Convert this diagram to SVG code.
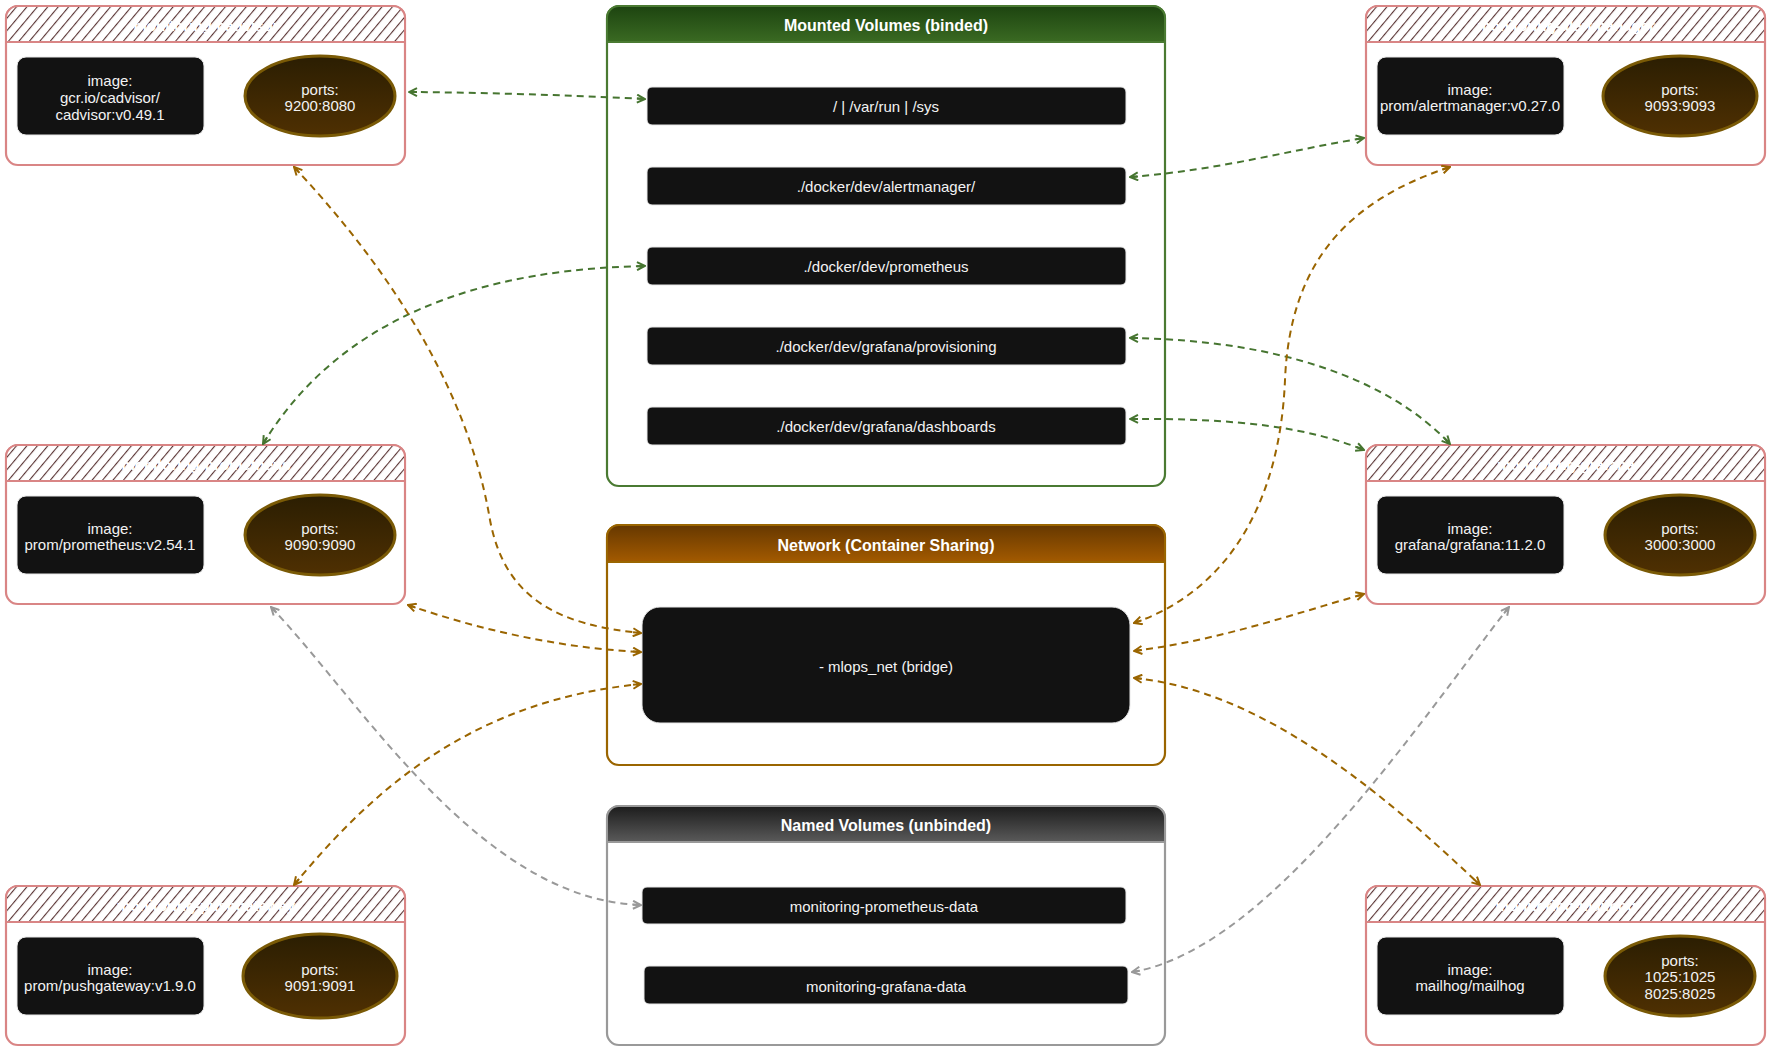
<svg xmlns="http://www.w3.org/2000/svg" width="1772" height="1053" viewBox="0 0 1772 1053">
<style>
.svc{fill:#fff;stroke:#d98585;stroke-width:2.2}
.hdr{fill:url(#hatch);stroke:#d98585;stroke-width:2}
.ttl{font-family:"Liberation Sans",Arial,sans-serif;font-size:15px;font-weight:bold;fill:#fff;text-anchor:middle;dominant-baseline:central}
.box{fill:#121212;stroke:#e8e8e8;stroke-width:1}
.t{font-family:"Liberation Sans",Arial,sans-serif;font-size:15px;fill:#f2f2f2;text-anchor:middle;dominant-baseline:central}
.port{fill:url(#portg);stroke:#7a5a06;stroke-width:3}
.ctitle{font-family:"Liberation Sans",Arial,sans-serif;font-size:16px;font-weight:bold;fill:#fff;text-anchor:middle;dominant-baseline:central}
.cg{fill:none;stroke:#467530;stroke-width:2;stroke-dasharray:7 5;marker-start:url(#ag);marker-end:url(#ag)}
.cb{fill:none;stroke:#9a6500;stroke-width:2;stroke-dasharray:7 5;marker-start:url(#ab);marker-end:url(#ab)}
.cy{fill:none;stroke:#999;stroke-width:2;stroke-dasharray:7 5;marker-start:url(#ay);marker-end:url(#ay)}
</style>
<defs>
<pattern id="hatch" patternUnits="userSpaceOnUse" width="8" height="8" patternTransform="rotate(40)">
<rect width="8" height="8" fill="#fff"/>
<line x1="0" y1="0" x2="0" y2="8" stroke="#5a3434" stroke-width="2.2"/>
</pattern>
<linearGradient id="portg" x1="0" y1="0" x2="0" y2="1">
<stop offset="0" stop-color="#2b1e02"/><stop offset="1" stop-color="#4f3002"/>
</linearGradient>
<linearGradient id="gg" x1="0" y1="0" x2="0" y2="1">
<stop offset="0" stop-color="#1d4410"/><stop offset="1" stop-color="#3a6a22"/>
</linearGradient>
<linearGradient id="bg" x1="0" y1="0" x2="0" y2="1">
<stop offset="0" stop-color="#663800"/><stop offset="1" stop-color="#a35a00"/>
</linearGradient>
<linearGradient id="yg" x1="0" y1="0" x2="0" y2="1">
<stop offset="0" stop-color="#1c1c1c"/><stop offset="1" stop-color="#5a5a5a"/>
</linearGradient>
<marker id="ag" viewBox="0 0 10 10" refX="9" refY="5" markerWidth="10" markerHeight="10" markerUnits="userSpaceOnUse" orient="auto-start-reverse"><path d="M1,1 L9,5 L1,9 M9,5 L1,5" fill="none" stroke="#467530" stroke-width="2"/></marker>
<marker id="ab" viewBox="0 0 10 10" refX="9" refY="5" markerWidth="10" markerHeight="10" markerUnits="userSpaceOnUse" orient="auto-start-reverse"><path d="M1,1 L9,5 L1,9 M9,5 L1,5" fill="none" stroke="#9a6500" stroke-width="2"/></marker>
<marker id="ay" viewBox="0 0 10 10" refX="9" refY="5" markerWidth="10" markerHeight="10" markerUnits="userSpaceOnUse" orient="auto-start-reverse"><path d="M1,1 L9,5 L1,9 M9,5 L1,5" fill="none" stroke="#999" stroke-width="2"/></marker>
</defs>
<rect width="1772" height="1053" fill="#fff"/>

<g id="mounted-volumes">
<rect x="607" y="6" width="558" height="480" rx="12" fill="#fff" stroke="#4a7a32" stroke-width="2.2"/>
<path d="M607,42 V18 A12,12 0 0 1 619,6 H1153 A12,12 0 0 1 1165,18 V42 Z" fill="url(#gg)" stroke="#4a7a32" stroke-width="2"/>
<text class="ctitle" x="886" y="25">Mounted Volumes (binded)</text>
<rect class="box" x="647" y="87" width="479" height="38" rx="5"/>
<text class="t" x="886" y="106">/ | /var/run  | /sys</text>
<rect class="box" x="647" y="167" width="479" height="38" rx="5"/>
<text class="t" x="886" y="186">./docker/dev/alertmanager/</text>
<rect class="box" x="647" y="247" width="479" height="38" rx="5"/>
<text class="t" x="886" y="266">./docker/dev/prometheus</text>
<rect class="box" x="647" y="327" width="479" height="38" rx="5"/>
<text class="t" x="886" y="346">./docker/dev/grafana/provisioning</text>
<rect class="box" x="647" y="407" width="479" height="38" rx="5"/>
<text class="t" x="886" y="426">./docker/dev/grafana/dashboards</text>
</g>

<g id="network">
<rect x="607" y="525" width="558" height="240" rx="12" fill="#fff" stroke="#9a6500" stroke-width="2.2"/>
<path d="M607,562 V537 A12,12 0 0 1 619,525 H1153 A12,12 0 0 1 1165,537 V562 Z" fill="url(#bg)" stroke="#9a6500" stroke-width="2"/>
<text class="ctitle" x="886" y="545">Network (Container Sharing)</text>
<rect class="box" x="642" y="607" width="488" height="116" rx="18"/>
<text class="t" x="886" y="666">- mlops_net (bridge)</text>
</g>

<g id="named-volumes">
<rect x="607" y="806" width="558" height="239" rx="12" fill="#fff" stroke="#999" stroke-width="2.2"/>
<path d="M607,842 V818 A12,12 0 0 1 619,806 H1153 A12,12 0 0 1 1165,818 V842 Z" fill="url(#yg)" stroke="#999" stroke-width="2"/>
<text class="ctitle" x="886" y="825">Named Volumes (unbinded)</text>
<rect class="box" x="642" y="887" width="484" height="37" rx="5"/>
<text class="t" x="884" y="906">monitoring-prometheus-data</text>
<rect class="box" x="644" y="966" width="484" height="38" rx="5"/>
<text class="t" x="886" y="986">monitoring-grafana-data</text>
</g>

<g id="cadvisor" transform="translate(6,6)">
<rect class="svc" width="399" height="159" rx="12"/>
<path class="hdr" d="M0,36 V12 A12,12 0 0 1 12,0 H387 A12,12 0 0 1 399,12 V36 Z"/>
<text class="ttl" x="200" y="19">monitoring-cadvisor</text>
<rect class="box" x="11" y="51" width="187" height="78" rx="9"/>
<text class="t" x="104" y="74">image:</text>
<text class="t" x="104" y="91">gcr.io/cadvisor/</text>
<text class="t" x="104" y="108">cadvisor:v0.49.1</text>
<ellipse class="port" cx="314" cy="90" rx="75" ry="40"/>
<text class="t" x="314" y="83">ports:</text>
<text class="t" x="314" y="99">9200:8080</text>
</g>

<g id="alertmanager" transform="translate(1366,6)">
<rect class="svc" width="399" height="159" rx="12"/>
<path class="hdr" d="M0,36 V12 A12,12 0 0 1 12,0 H387 A12,12 0 0 1 399,12 V36 Z"/>
<text class="ttl" x="200" y="19">monitoring-alertmanager</text>
<rect class="box" x="11" y="51" width="187" height="78" rx="9"/>
<text class="t" x="104" y="83">image:</text>
<text class="t" x="104" y="99">prom/alertmanager:v0.27.0</text>
<ellipse class="port" cx="314" cy="90" rx="77" ry="40"/>
<text class="t" x="314" y="83">ports:</text>
<text class="t" x="314" y="99">9093:9093</text>
</g>

<g id="prometheus" transform="translate(6,445)">
<rect class="svc" width="399" height="159" rx="12"/>
<path class="hdr" d="M0,36 V12 A12,12 0 0 1 12,0 H387 A12,12 0 0 1 399,12 V36 Z"/>
<text class="ttl" x="200" y="19">monitoring-prometheus</text>
<rect class="box" x="11" y="51" width="187" height="78" rx="9"/>
<text class="t" x="104" y="83">image:</text>
<text class="t" x="104" y="99">prom/prometheus:v2.54.1</text>
<ellipse class="port" cx="314" cy="90" rx="75" ry="40"/>
<text class="t" x="314" y="83">ports:</text>
<text class="t" x="314" y="99">9090:9090</text>
</g>

<g id="grafana" transform="translate(1366,445)">
<rect class="svc" width="399" height="159" rx="12"/>
<path class="hdr" d="M0,36 V12 A12,12 0 0 1 12,0 H387 A12,12 0 0 1 399,12 V36 Z"/>
<text class="ttl" x="200" y="19">monitoring-grafana</text>
<rect class="box" x="11" y="51" width="187" height="78" rx="9"/>
<text class="t" x="104" y="83">image:</text>
<text class="t" x="104" y="99">grafana/grafana:11.2.0</text>
<ellipse class="port" cx="314" cy="90" rx="75" ry="40"/>
<text class="t" x="314" y="83">ports:</text>
<text class="t" x="314" y="99">3000:3000</text>
</g>

<g id="pushgateway" transform="translate(6,886)">
<rect class="svc" width="399" height="159" rx="12"/>
<path class="hdr" d="M0,36 V12 A12,12 0 0 1 12,0 H387 A12,12 0 0 1 399,12 V36 Z"/>
<text class="ttl" x="200" y="19">monitoring-pushgateway</text>
<rect class="box" x="11" y="51" width="187" height="78" rx="9"/>
<text class="t" x="104" y="83">image:</text>
<text class="t" x="104" y="99">prom/pushgateway:v1.9.0</text>
<ellipse class="port" cx="314" cy="90" rx="77" ry="42"/>
<text class="t" x="314" y="83">ports:</text>
<text class="t" x="314" y="99">9091:9091</text>
</g>

<g id="mailhog" transform="translate(1366,886)">
<rect class="svc" width="399" height="159" rx="12"/>
<path class="hdr" d="M0,36 V12 A12,12 0 0 1 12,0 H387 A12,12 0 0 1 399,12 V36 Z"/>
<text class="ttl" x="200" y="19">monitoring-mailhog</text>
<rect class="box" x="11" y="51" width="187" height="78" rx="9"/>
<text class="t" x="104" y="83">image:</text>
<text class="t" x="104" y="99">mailhog/mailhog</text>
<ellipse class="port" cx="314" cy="90" rx="75" ry="40"/>
<text class="t" x="314" y="74">ports:</text>
<text class="t" x="314" y="90">1025:1025</text>
<text class="t" x="314" y="107">8025:8025</text>
</g>

<g id="connectors">
<path class="cg" d="M409,92 Q525,93 645,99"/>
<path class="cg" d="M1130,177 C1220,170 1290,150 1364,138"/>
<path class="cg" d="M263,444 C320,350 430,270 645,266"/>
<path class="cg" d="M1130,338 C1280,340 1390,380 1450,444"/>
<path class="cg" d="M1130,419 C1240,418 1310,428 1364,450"/>
<path class="cb" d="M294,167 C400,280 470,400 490,520 C505,600 560,625 641,633"/>
<path class="cb" d="M408,605 C480,630 560,648 641,652"/>
<path class="cb" d="M294,885 C380,780 480,700 641,684"/>
<path class="cb" d="M1134,623 C1230,590 1280,500 1285,380 C1290,260 1350,200 1450,167"/>
<path class="cb" d="M1134,651 C1220,640 1290,615 1364,594"/>
<path class="cb" d="M1134,678 C1260,690 1380,790 1480,885"/>
<path class="cy" d="M271,607 C360,700 480,900 641,905"/>
<path class="cy" d="M1132,972 C1270,950 1420,720 1509,607"/>
</g>
</svg>
